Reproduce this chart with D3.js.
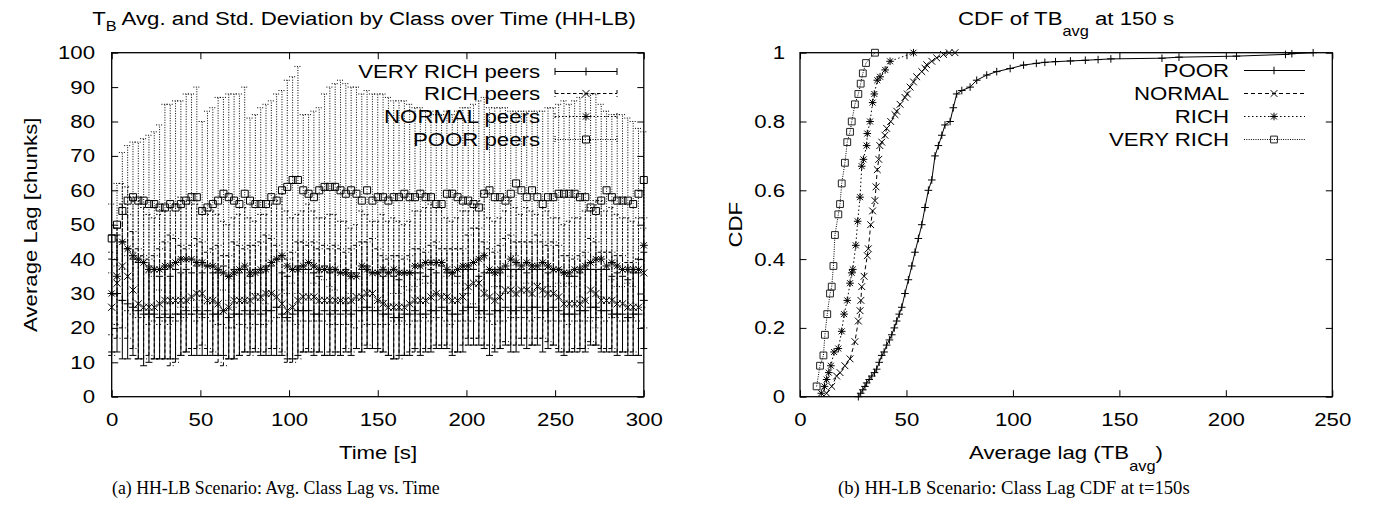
<!DOCTYPE html>
<html><head><meta charset="utf-8">
<script src="https://cdn.jsdelivr.net/npm/d3@7"></script>
<style>body{margin:0;background:#fff}svg{display:block}</style>
</head><body><svg id="c" width="1385" height="514"></svg>
<script>
// ---------- DATA: left chart (class lag vs time) ----------
const time = [0,3,6,9,12,15,18,21,24,27,30,33,36,39,42,45,48,51,54,57,60,63,66,69,72,75,78,81,84,87,90,93,96,99,102,105,108,111,114,117,120,123,126,129,132,135,138,141,144,147,150,153,156,159,162,165,168,171,174,177,180,183,186,189,192,195,198,201,204,207,210,213,216,219,222,225,228,231,234,237,240,243,246,249,252,255,258,261,264,267,270,273,276,279,282,285,288,291,294,297,300];
const veryRichMean = [30,30,28,27,26,25,24,24,24,23, 24,23,24,24,25,24,25,24,25,24, 24,25,23,24,24,25,24,25,24,25, 25,26,24,23,24,25,25,25,24,24, 25,24,25,24,25,24,25,25,26,25, 25,24,24,23,23,24,24,25,24,24, 25,25,26,25,24,24,25,26,26,25, 25,24,25,25,26,25,25,26,25,26, 26,25,25,26,25,24,24,24,25,25, 26,26,25,25,24,24,24,23,24,24, 28];
const veryRichStd = [17,17,17,16,14,14,15,14,13,12, 13,12,13,12,12,12,13,12,13,12, 12,13,12,13,12,12,11,12,12,13, 13,14,12,12,13,13,12,12,12,11, 13,12,12,12,12,12,11,12,12,11, 11,11,12,12,11,12,12,11,12,11, 12,11,12,11,12,11,12,11,11,10, 11,12,12,11,11,12,12,11,11,11, 11,12,11,11,12,12,11,11,11,12, 11,11,12,12,11,12,11,11,12,12, 14];
const richMean = [26,33,38,35,31,27,26,26,26,27, 28,28,28,28,28,29,30,30,28,28, 27,25,26,28,28,28,28,29,29,30, 30,29,27,25,26,28,29,29,29,28, 28,28,28,28,28,28,29,29,30,30, 28,27,26,26,26,26,27,28,28,28, 29,30,29,29,28,28,29,32,33,33, 30,29,28,29,31,31,30,31,31,30, 32,31,30,30,29,27,27,27,27,28, 31,30,28,28,28,27,27,26,26,26, 36];
const richStd = [14,16,18,18,17,16,15,14,15,16, 17,19,18,16,15,15,16,15,14,15, 17,16,15,17,16,15,16,15,16,17, 16,15,14,15,16,17,16,15,16,15, 16,15,16,15,14,15,15,16,15,16, 15,14,14,15,15,14,14,15,15,14, 15,15,14,14,15,15,14,15,16,16, 15,14,14,15,15,16,15,14,14,15, 15,14,14,15,15,14,14,13,14,14, 15,15,14,14,14,14,14,13,13,14, 16];
const normalMean = [30,35,45,43,41,40,39,37,37,37, 38,38,39,40,40,40,39,39,38,38, 37,36,35,36,37,38,36,36,37,37, 39,40,41,38,37,37,38,39,38,37, 37,37,37,36,36,35,35,38,37,36, 36,37,36,37,36,36,36,38,38,39, 39,39,39,37,36,37,38,38,39,40, 41,37,36,37,38,40,39,38,39,38, 38,39,38,37,37,36,36,37,37,38, 39,40,40,38,39,38,37,37,37,37, 44];
const normalStd = [12,14,17,18,17,17,16,16,15,16, 16,17,17,18,17,16,17,16,15,16, 16,15,15,16,16,17,16,15,16,16, 17,17,18,16,15,16,16,17,16,15, 15,16,16,15,15,14,15,16,16,15, 15,16,15,15,15,14,15,16,16,16, 17,16,16,15,15,15,16,16,17,17, 18,15,15,15,16,17,16,15,16,16, 15,16,16,15,15,14,15,15,15,16, 16,17,17,16,16,15,15,15,14,15, 18];
const poorMean = [46,50,54,57,58,57,57,56,56,55, 55,56,55,56,57,58,58,54,55,56, 57,59,58,57,56,59,57,56,56,56, 58,57,60,61,63,63,60,59,58,60, 61,61,61,60,59,60,59,57,60,57, 58,58,57,58,58,59,58,58,59,58, 58,56,56,59,59,58,57,57,56,55, 59,60,58,58,57,59,62,60,58,60, 58,56,58,58,59,59,59,59,58,58, 55,54,57,60,58,57,57,57,56,59, 63];
const poorStd = [10,12,17,16,16,17,18,20,21,24, 30,29,31,30,31,30,32,26,28,28, 30,28,30,31,32,31,24,26,28,29, 28,31,29,31,30,33,22,23,25,24, 27,29,30,32,32,30,31,31,29,31, 30,30,30,28,28,27,27,26,25,25, 25,26,26,24,23,25,27,27,29,31, 28,24,26,26,27,24,21,23,25,23, 25,27,26,26,26,27,26,27,29,30, 33,34,28,23,24,25,25,24,24,19, 14];
const timeTicks = [0,50,100,150,200,250,300];
const lagTicks = [0,10,20,30,40,50,60,70,80,90,100];

// ---------- DATA: right chart (CDF at 150 s) ----------
const poorLag = [27.4,28.5,29.5,30.5,31.3,32.5,33.7,35,36,37.2,38.4,39.5,40.7,42,43.1,44.3,45.4,46.6,47.8,49.3,50.9,52.5,54,55.6,57.2,58.7,60.3,61.9,63.4,65,66.6,68.1,70.5,72,73.6,76,79.9,83,87.7,92.4,98.7,105,111,115,120,127,134,140,146,170,178,205,228,231,241];
const poorCdf = [0,0.01,0.02,0.03,0.04,0.05,0.06,0.07,0.08,0.1,0.12,0.13,0.15,0.165,0.18,0.2,0.22,0.24,0.26,0.3,0.34,0.38,0.42,0.46,0.5,0.55,0.6,0.63,0.7,0.73,0.76,0.79,0.8,0.84,0.88,0.89,0.9,0.92,0.935,0.945,0.954,0.964,0.969,0.972,0.974,0.976,0.978,0.98,0.982,0.984,0.987,0.99,0.995,0.997,1.0];
const normalLag = [12.5,14.9,17.2,18.8,21.1,23.5,25.8,27.4,28.2,28.6,29,30.1,31.6,32.1,33.2,34.1,35.2,35.7,36.3,37,37.5,38.4,39.9,40.7,42.6,44.6,45.4,47,49.3,50.4,51.7,53.3,54.8,57.2,58.7,59.5,61.9,64.2,67.4,70,72.8];
const normalCdf = [0.01,0.03,0.06,0.07,0.09,0.11,0.16,0.22,0.25,0.28,0.32,0.35,0.41,0.43,0.5,0.54,0.57,0.61,0.66,0.69,0.73,0.74,0.76,0.78,0.8,0.82,0.83,0.85,0.87,0.88,0.9,0.915,0.93,0.945,0.955,0.965,0.975,0.985,0.995,1.0,1.0];
const richLag = [10,11.5,12.5,13.5,14.5,16,18,19.6,20.7,22.2,23.5,24.3,24.8,26.2,27.1,28.2,29,29.8,31.3,31.6,32.9,34.1,34.9,36.3,37.6,40,42.3,53.3];
const richCdf = [0.01,0.03,0.05,0.07,0.09,0.13,0.14,0.19,0.24,0.28,0.33,0.36,0.37,0.44,0.51,0.58,0.67,0.69,0.73,0.765,0.8,0.855,0.88,0.92,0.93,0.95,0.975,1.0];
const veryRichLag = [7.8,9.4,11,11.7,12.8,14.1,14.9,15.7,16.4,18,18.8,19.6,21.1,22.2,23.5,24.3,25.8,27.4,28.5,29.5,31,35.2];
const veryRichCdf = [0.03,0.09,0.12,0.18,0.24,0.3,0.32,0.38,0.47,0.53,0.56,0.62,0.68,0.74,0.77,0.8,0.85,0.88,0.91,0.94,0.97,1.0];
const lagAxisTicks = [0,50,100,150,200,250];
const cdfTicks = [0,0.2,0.4,0.6,0.8,1];
const cdfTickLabels = ["0","0.2","0.4","0.6","0.8","1"];

// ---------- DRAWING ----------
const svg = d3.select("#c");
const SANS = '"Liberation Sans", Arial, Helvetica, sans-serif';
const SERIF = '"Liberation Serif", "Times New Roman", serif';
const FS = 19, SX = 1.17;

function label(parent, x, y, opts) {
  const o = Object.assign({anchor:"start", size:FS, sx:SX, rotate:0, family:SANS}, opts);
  const g = parent.append("g").attr("transform",
    `translate(${x},${y})` + (o.rotate ? ` rotate(${o.rotate})` : "") + ` scale(${o.sx},1)`);
  return g.append("text").attr("text-anchor", o.anchor).attr("font-family", o.family)
    .attr("font-size", o.size).attr("fill", "#000");
}

function marker(type, s) {
  if (type === "plus") return `M${-s},0H${s}M0,${-s}V${s}`;
  if (type === "cross") return `M${-s},${-s}L${s},${s}M${-s},${s}L${s},${-s}`;
  if (type === "star") { const c = s*0.78; return `M${-s},0H${s}M0,${-s}V${s}M${-c},${-c}L${c},${c}M${-c},${c}L${c},${-c}`; }
  return `M${-s},${-s}H${s}V${s}H${-s}Z`;
}

function axes(g, x, y, xt, xlab, yt, ylab, padX) {
  const T = -6.5;
  const [y0, y1] = y.range(), [x0, x1] = x.range();
  g.append("g").attr("transform", `translate(0,${y0})`)
    .call(d3.axisBottom(x).tickValues(xt).tickFormat((d,i)=>xlab[i]).tickSizeInner(T).tickSizeOuter(0).tickPadding(16));
  g.append("g").attr("transform", `translate(0,${y1})`)
    .call(d3.axisTop(x).tickValues(xt).tickFormat("").tickSizeInner(T).tickSizeOuter(0));
  g.append("g").attr("transform", `translate(${x0},0)`)
    .call(d3.axisLeft(y).tickValues(yt).tickFormat((d,i)=>ylab[i]).tickSizeInner(T).tickSizeOuter(0).tickPadding(padX/SX));
  g.append("g").attr("transform", `translate(${x1},0)`)
    .call(d3.axisRight(y).tickValues(yt).tickFormat("").tickSizeInner(T).tickSizeOuter(0));
  g.selectAll(".domain").remove();
  g.selectAll(".tick line").attr("stroke", "#000").attr("stroke-width", 1);
  g.selectAll(".tick text").attr("font-family", SANS).attr("font-size", FS).attr("fill", "#000")
    .attr("transform", `scale(${SX},1)`);
  g.append("rect").attr("x", x0).attr("y", y1).attr("width", x1 - x0).attr("height", y0 - y1)
    .attr("fill", "none").attr("stroke", "#000").attr("stroke-width", 1.3);
}

// ===== Left chart =====
const xL = d3.scaleLinear().domain([0, 300]).range([111.7, 643.8]);
const yL = d3.scaleLinear().domain([0, 100]).range([396.7, 52.7]);
const gL = svg.append("g");

const leftSeries = [
  {name:"VERY RICH peers", mean:veryRichMean, std:veryRichStd, dash:null, mk:"plus", s:4},
  {name:"RICH peers", mean:richMean, std:richStd, dash:"3.5,2.5", mk:"cross", s:3.6},
  {name:"NORMAL peers", mean:normalMean, std:normalStd, dash:"1.5,2", mk:"star", s:4},
  {name:"POOR peers", mean:poorMean, std:poorStd, dash:"1,1.5", mk:"square", s:3.5}
];
const legY = [71.5, 93.5, 116.5, 139.5];
const cap = 3.5;

leftSeries.forEach((se, k) => {
  const ly = legY[k];
  label(gL, 540, ly + 6.7, {anchor:"end"}).text(se.name);
  gL.append("path")
    .attr("d", `M555,${ly}H617M555,${ly-3.5}V${ly+3.5}M617,${ly-3.5}V${ly+3.5}`)
    .attr("stroke", "#000").attr("fill", "none").attr("stroke-width", 1)
    .attr("stroke-dasharray", se.dash);
  gL.append("path").attr("d", marker(se.mk, se.s)).attr("transform", `translate(586,${ly})`)
    .attr("stroke", "#000").attr("fill", "none").attr("stroke-width", 1);

  let d = "";
  time.forEach((t, i) => {
    const xx = xL(t), lo = yL(se.mean[i] - se.std[i]), hi = yL(se.mean[i] + se.std[i]);
    d += `M${xx},${lo}V${hi}M${xx-cap},${lo}H${xx+cap}M${xx-cap},${hi}H${xx+cap}`;
  });
  gL.append("path").attr("d", d).attr("stroke", "#000").attr("fill", "none")
    .attr("stroke-width", 1).attr("stroke-dasharray", se.dash);
  gL.selectAll(null).data(time).enter().append("path")
    .attr("d", marker(se.mk, se.s))
    .attr("transform", (t, i) => `translate(${xL(t)},${yL(se.mean[i])})`)
    .attr("stroke", "#000").attr("fill", "none").attr("stroke-width", 1);
});

axes(gL, xL, yL, timeTicks, timeTicks.map(String), lagTicks, lagTicks.map(String), 16.7);

{
  const t = label(svg, 364, 25, {anchor:"middle"});
  t.append("tspan").text("T");
  t.append("tspan").attr("font-size", 14).attr("dy", 6).text("B");
  t.append("tspan").attr("dy", -6).text(" Avg. and Std. Deviation by Class over Time (HH-LB)");
}
label(svg, 378, 459, {anchor:"middle"}).text("Time [s]");
label(svg, 36.5, 224.7, {anchor:"middle", rotate:-90}).text("Average Lag [chunks]");

// ===== Right chart =====
const xR = d3.scaleLinear().domain([0, 250]).range([800, 1332.3]);
const yR = d3.scaleLinear().domain([0, 1]).range([396.7, 52.7]);
const gR = svg.append("g");

const rightSeries = [
  {name:"POOR", lag:poorLag, cdf:poorCdf, dash:null, mk:"plus", s:3.8, col:"#000"},
  {name:"NORMAL", lag:normalLag, cdf:normalCdf, dash:"4,3", mk:"cross", s:3.4, col:"#000"},
  {name:"RICH", lag:richLag, cdf:richCdf, dash:"1.5,2.5", mk:"star", s:3.8, col:"#000"},
  {name:"VERY RICH", lag:veryRichLag, cdf:veryRichCdf, dash:"1,1.3", mk:"square", s:3.4, col:"#222"}
];
const legYR = [70.5, 93.5, 116.5, 139.5];
const line = d3.line();
rightSeries.forEach((se, k) => {
  const ly = legYR[k];
  label(gR, 1229, ly + 6.7, {anchor:"end"}).text(se.name);
  gR.append("path").attr("d", `M1244,${ly}H1305`).attr("stroke", "#000").attr("stroke-width", 1)
    .attr("stroke-dasharray", se.dash);
  gR.append("path").attr("d", marker(se.mk, se.s)).attr("transform", `translate(1274,${ly})`)
    .attr("stroke", se.col).attr("fill", "none").attr("stroke-width", 1);

  const pts = se.lag.map((v, i) => [xR(v), yR(se.cdf[i])]);
  gR.append("path").attr("d", line(pts)).attr("fill", "none").attr("stroke", "#000")
    .attr("stroke-width", 1).attr("stroke-dasharray", se.dash);
  gR.selectAll(null).data(pts).enter().append("path")
    .attr("d", marker(se.mk, se.s)).attr("transform", p => `translate(${p[0]},${p[1]})`)
    .attr("stroke", se.col).attr("fill", "none").attr("stroke-width", 1);
});

axes(gR, xR, yR, lagAxisTicks, lagAxisTicks.map(String), cdfTicks, cdfTickLabels, 15);

{
  const t = label(svg, 1066, 25, {anchor:"middle"});
  t.append("tspan").text("CDF of TB");
  t.append("tspan").attr("font-size", 14).attr("dy", 11).text("avg");
  t.append("tspan").attr("dy", -11).text(" at 150 s");
}
{
  const t = label(svg, 1066, 459, {anchor:"middle"});
  t.append("tspan").text("Average lag (TB");
  t.append("tspan").attr("font-size", 14).attr("dy", 12).text("avg");
  t.append("tspan").attr("dy", -12).text(")");
}
label(svg, 741.5, 224.7, {anchor:"middle", rotate:-90}).text("CDF");

// ===== captions =====
function caption(x, y, str, target) {
  const g = svg.append("g").attr("transform", `translate(${x},${y})`);
  const t = g.append("text").attr("font-family", SERIF).attr("font-size", 18.5).attr("fill", "#000").text(str);
  const w = t.node().getComputedTextLength();
  g.attr("transform", `translate(${x},${y}) scale(${target / w},1)`);
}
caption(112, 494, "(a) HH-LB Scenario: Avg. Class Lag vs. Time", 328);
caption(838, 494, "(b) HH-LB Scenario: Class Lag CDF at t=150s", 352);
</script>
</body></html>
